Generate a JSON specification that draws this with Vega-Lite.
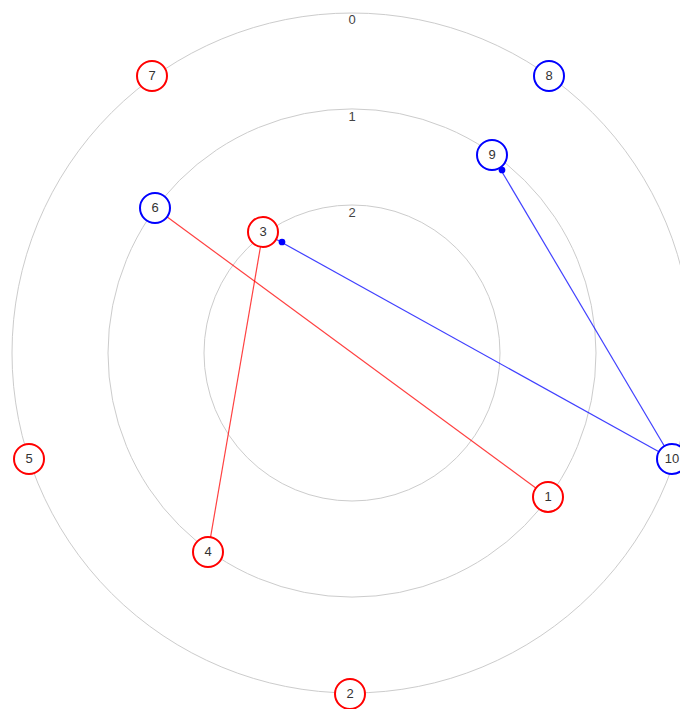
{
  "$schema": "https://vega.github.io/schema/vega-lite/v6.json",
  "width": 680,
  "height": 709,
  "padding": 0,
  "autosize": {"type": "none"},
  "config": {"view": {"stroke": null}, "axis": {"disable": true}},
  "datasets": {
    "nodes": [
      {"id": "1", "group": "red", "x": 196, "y": -144},
      {"id": "2", "group": "red", "x": -2, "y": -341},
      {"id": "3", "group": "red", "x": -89, "y": 121},
      {"id": "4", "group": "red", "x": -144, "y": -199},
      {"id": "5", "group": "red", "x": -323, "y": -106},
      {"id": "6", "group": "blue", "x": -197, "y": 145},
      {"id": "7", "group": "red", "x": -200, "y": 277},
      {"id": "8", "group": "blue", "x": 197, "y": 277},
      {"id": "9", "group": "blue", "x": 140, "y": 198},
      {"id": "10", "group": "blue", "x": 320, "y": -106}
    ],
    "edges": [
      {"source": "6", "target": "1", "group": "red"},
      {"source": "3", "target": "4", "group": "red"},
      {"source": "10", "target": "3", "group": "blue"},
      {"source": "10", "target": "9", "group": "blue"}
    ],
    "rings": [
      {"level": "0", "x": 0, "y": 0, "ly": 333},
      {"level": "1", "x": 0, "y": 0, "ly": 236},
      {"level": "2", "x": 0, "y": 0, "ly": 140}
    ],
    "arrows": [
      {"group": "blue", "x": -70, "y": 111},
      {"group": "blue", "x": 150, "y": 183}
    ]
  },
  "layer": [
    {
      "data": {"name": "rings"},
      "mark": {"type": "point", "shape": "circle", "filled": false, "stroke": "#cccccc", "strokeWidth": 1, "opacity": 1},
      "encoding": {
        "x": {"field": "x", "type": "quantitative", "scale": {"domain": [-352, 328], "nice": false, "zero": false}},
        "y": {"field": "y", "type": "quantitative", "scale": {"domain": [-356, 353], "nice": false, "zero": false}},
        "size": {"field": "level", "type": "nominal", "scale": {"type": "ordinal", "domain": ["0", "1", "2"], "range": [462400, 238144, 87616]}, "legend": null}
      }
    },
    {
      "data": {"name": "rings"},
      "mark": {"type": "text", "font": "Liberation Sans", "fontSize": 13, "fill": "#444444", "baseline": "middle", "align": "center"},
      "encoding": {
        "x": {"field": "x", "type": "quantitative"},
        "y": {"field": "ly", "type": "quantitative"},
        "text": {"field": "level"}
      }
    },
    {
      "data": {"name": "edges"},
      "transform": [
        {"lookup": "source", "from": {"data": {"name": "nodes"}, "key": "id", "fields": ["x", "y"]}, "as": ["sx", "sy"]},
        {"lookup": "target", "from": {"data": {"name": "nodes"}, "key": "id", "fields": ["x", "y"]}, "as": ["tx", "ty"]}
      ],
      "mark": {"type": "rule", "strokeWidth": 1.2, "opacity": 0.75},
      "encoding": {
        "x": {"field": "sx", "type": "quantitative"},
        "y": {"field": "sy", "type": "quantitative"},
        "x2": {"field": "tx"},
        "y2": {"field": "ty"},
        "color": {"field": "group", "type": "nominal", "scale": {"domain": ["red", "blue"], "range": ["#ff0000", "#0000ff"]}, "legend": null}
      }
    },
    {
      "data": {"name": "nodes"},
      "mark": {"type": "point", "shape": "circle", "filled": false, "fill": "white", "fillOpacity": 1, "strokeWidth": 2, "size": 900, "opacity": 1},
      "encoding": {
        "x": {"field": "x", "type": "quantitative"},
        "y": {"field": "y", "type": "quantitative"},
        "stroke": {"field": "group", "type": "nominal", "scale": {"domain": ["red", "blue"], "range": ["#ff0000", "#0000ff"]}, "legend": null}
      }
    },
    {
      "data": {"name": "arrows"},
      "mark": {"type": "point", "shape": "circle", "filled": true, "size": 45, "opacity": 1},
      "encoding": {
        "x": {"field": "x", "type": "quantitative"},
        "y": {"field": "y", "type": "quantitative"},
        "color": {"field": "group", "type": "nominal", "scale": {"domain": ["red", "blue"], "range": ["#ff0000", "#0000ff"]}, "legend": null}
      }
    },
    {
      "data": {"name": "nodes"},
      "mark": {"type": "text", "font": "Liberation Sans", "fontSize": 13, "fill": "#333333", "baseline": "middle", "align": "center"},
      "encoding": {
        "x": {"field": "x", "type": "quantitative"},
        "y": {"field": "y", "type": "quantitative"},
        "text": {"field": "id"}
      }
    }
  ]
}
